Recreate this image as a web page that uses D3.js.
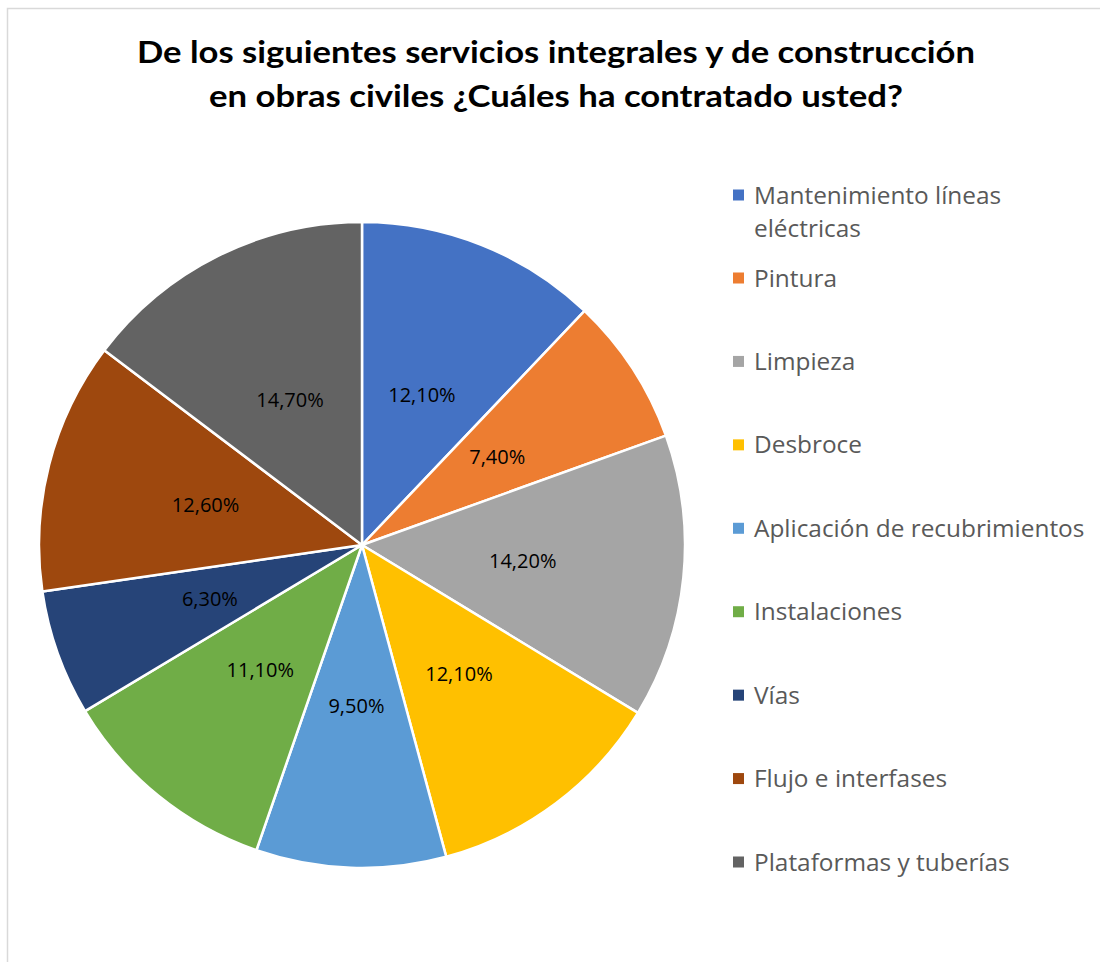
<!DOCTYPE html>
<html>
<head>
<meta charset="utf-8">
<script src="https://cdn.jsdelivr.net/npm/d3@7"></script>
<style>
  body { margin: 0; background: #fff; }
</style>
</head>
<body>
<script>
// categories and values
const categories = [
  "Mantenimiento líneas eléctricas",
  "Pintura",
  "Limpieza",
  "Desbroce",
  "Aplicación de recubrimientos",
  "Instalaciones",
  "Vías",
  "Flujo e interfases",
  "Plataformas y tuberías"
];
const values = [12.1, 7.4, 14.2, 12.1, 9.5, 11.1, 6.3, 12.6, 14.7];
const labels = ["12,10%", "7,40%", "14,20%", "12,10%", "9,50%", "11,10%", "6,30%", "12,60%", "14,70%"];
const colors = ["#4472C4", "#ED7D31", "#A5A5A5", "#FFC000", "#5B9BD5", "#70AD47", "#264478", "#9E480E", "#636363"];
const titleLines = [
  "De los siguientes servicios integrales y de construcción",
  "en obras civiles ¿Cuáles ha contratado usted?"
];

const width = 1100, height = 962;
const cx = 362, cy = 545, radius = 323;

const svg = d3.select("body")
  .append("svg")
  .attr("width", width)
  .attr("height", height)
  .attr("font-family", "'Open Sans', Lato, sans-serif");

// chart area border (right and bottom run off the page)
svg.append("rect")
  .attr("x", 7.5)
  .attr("y", 8.5)
  .attr("width", width + 20)
  .attr("height", height + 20)
  .attr("fill", "#fff")
  .attr("stroke", "#d9d9d9")
  .attr("stroke-width", 1.5);

// title
svg.selectAll("text.title")
  .data(titleLines)
  .enter().append("text")
  .attr("class", "title")
  .attr("x", 556)
  .attr("y", (d, i) => 63 + i * 44)
  .attr("text-anchor", "middle")
  .attr("font-family", "Lato, sans-serif")
  .attr("font-size", 30)
  .attr("font-weight", "bold")
  .attr("fill", "#000")
  .attr("textLength", (d, i) => i === 0 ? 838 : 694)
  .attr("lengthAdjust", "spacingAndGlyphs")
  .text(d => d);

const pie = d3.pie().sort(null).value(d => d);
const arcs = pie(values);
const arc = d3.arc().innerRadius(0).outerRadius(radius);
const labelArc = d3.arc().innerRadius(radius * 0.5).outerRadius(radius * 0.5);

const g = svg.append("g").attr("transform", `translate(${cx},${cy})`);

g.selectAll("path")
  .data(arcs)
  .enter().append("path")
  .attr("d", arc)
  .attr("fill", (d, i) => colors[i])
  .attr("stroke", "#fff")
  .attr("stroke-width", 2.5)
  .attr("stroke-linejoin", "round");

g.selectAll("text.lbl")
  .data(arcs)
  .enter().append("text")
  .attr("class", "lbl")
  .attr("transform", d => `translate(${labelArc.centroid(d)})`)
  .attr("text-anchor", "middle")
  .attr("dy", "0.35em")
  .attr("font-size", 20)
  .attr("fill", "#000")
  .text((d, i) => labels[i]);

// legend
const rowY = d3.scaleLinear().domain([1, 8]).range([278, 862]);
const legend = svg.append("g").attr("font-size", 24.4).attr("fill", "#595959");

const item = legend.selectAll("g")
  .data(categories)
  .enter().append("g")
  .attr("transform", (d, i) => `translate(733,${i === 0 ? 195 : rowY(i)})`);

item.append("rect")
  .attr("x", 0)
  .attr("y", -5.5)
  .attr("width", 11)
  .attr("height", 11)
  .attr("fill", (d, i) => colors[i]);

item.each(function (d, i) {
  const t = d3.select(this).append("text")
    .attr("x", 21)
    .attr("y", 0)
    .attr("dy", "0.35em");
  if (i === 0) {
    t.append("tspan").attr("x", 21).text("Mantenimiento líneas");
    t.append("tspan").attr("x", 21).attr("dy", 33).text("eléctricas");
  } else {
    t.text(d);
  }
});
</script>
</body>
</html>
